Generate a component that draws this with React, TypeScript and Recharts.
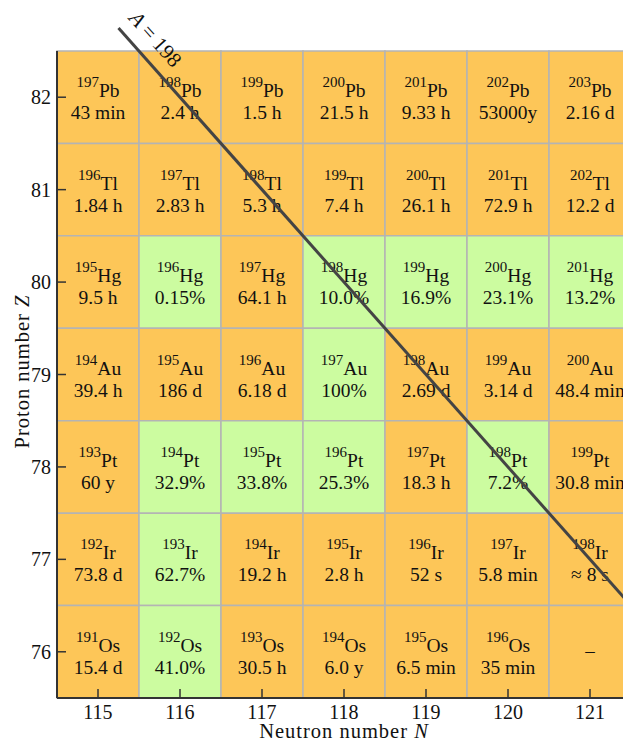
import React from 'react';
import { ComposedChart, XAxis, YAxis, ReferenceArea, ReferenceLine, ReferenceDot } from 'recharts';

// N across, Z down (top row = Z 82)
const neutronNumbers = [115, 116, 117, 118, 119, 120, 121];
const protonNumbers = [82, 81, 80, 79, 78, 77, 76];
const elements = ['Pb', 'Tl', 'Hg', 'Au', 'Pt', 'Ir', 'Os'];

// half-life, or natural abundance (%) for the stable ones
const cellValues = [
  ['43 min', '2.4 h', '1.5 h', '21.5 h', '9.33 h', '53000y', '2.16 d'],
  ['1.84 h', '2.83 h', '5.3 h', '7.4 h', '26.1 h', '72.9 h', '12.2 d'],
  ['9.5 h', '0.15%', '64.1 h', '10.0%', '16.9%', '23.1%', '13.2%'],
  ['39.4 h', '186 d', '6.18 d', '100%', '2.69 d', '3.14 d', '48.4 min'],
  ['60 y', '32.9%', '33.8%', '25.3%', '18.3 h', '7.2%', '30.8 min'],
  ['73.8 d', '62.7%', '19.2 h', '2.8 h', '52 s', '5.8 min', '\u2248 8 s'],
  ['15.4 d', '41.0%', '30.5 h', '6.0 y', '6.5 min', '35 min', '\u2013'],
];

const isobarA = 198;

const FONT = '"Liberation Serif", "Times New Roman", serif';
const UNSTABLE = '#fdc658';
const STABLE = '#ccfca0';
const GRID = '#b4b4b4';

const CellLabel = ({ viewBox, mass, symbol, value }: any) => {
  const cx = viewBox.x + viewBox.width / 2;
  const cy = viewBox.y + viewBox.height / 2;
  if (value === '\u2013') {
    return (
      <text x={cx} y={cy + 5} textAnchor="middle" fontFamily={FONT} fontSize={19} fill="#111">
        {value}
      </text>
    );
  }
  return (
    <g>
      <text x={cx} y={cy} textAnchor="middle" fontFamily={FONT} fill="#111">
        <tspan fontSize={15} dy={-10}>{mass}</tspan>
        <tspan fontSize={19.5} dy={10}>{symbol}</tspan>
      </text>
      <text x={cx} y={cy + 22} textAnchor="middle" fontFamily={FONT} fontSize={19.5} fill="#111">
        {value}
      </text>
    </g>
  );
};

const XLabel = ({ viewBox }: any) => (
  <text
    x={viewBox.x + viewBox.width / 2}
    y={738}
    textAnchor="middle"
    fontFamily={FONT}
    fontSize={20.5}
    letterSpacing={1}
    fill="#111"
  >
    Neutron number <tspan fontStyle="italic">N</tspan>
  </text>
);

const YLabel = ({ viewBox }: any) => {
  const cy = viewBox.y + viewBox.height / 2 - 3;
  return (
    <text
      x={29}
      y={cy}
      transform={`rotate(-90, 29, ${cy})`}
      textAnchor="middle"
      fontFamily={FONT}
      fontSize={20.5}
      letterSpacing={1}
      fill="#111"
    >
      Proton number <tspan fontStyle="italic">Z</tspan>
    </text>
  );
};

const LineLabel = ({ cx, cy }: any) => (
  <text
    x={cx}
    y={cy}
    transform={`rotate(48, ${cx}, ${cy})`}
    textAnchor="middle"
    dominantBaseline="central"
    fontFamily={FONT}
    fontSize={21}
    fill="#111"
  >
    <tspan fontStyle="italic">A</tspan> = {isobarA}
  </text>
);

export default function App() {
  const cells = protonNumbers.flatMap((z, row) =>
    neutronNumbers.map((n, col) => {
      const value = cellValues[row][col];
      const stable = value.endsWith('%');
      return (
        <ReferenceArea
          key={`${z}-${n}`}
          x1={n - 0.5}
          x2={n + 0.5}
          y1={z - 0.5}
          y2={z + 0.5}
          fill={stable ? STABLE : UNSTABLE}
          fillOpacity={1}
          stroke={GRID}
          strokeWidth={1.5}
          ifOverflow="visible"
          label={<CellLabel mass={n + z} symbol={elements[row]} value={value} />}
        />
      );
    })
  );

  const zTop = protonNumbers[0] + 0.75;
  const zBottom = protonNumbers[protonNumbers.length - 1] + 0.4;

  return (
    <div style={{ position: 'fixed', left: 0, top: 0, width: 623, height: 741, overflow: 'hidden', background: '#fff' }}>
      <ComposedChart width={640} height={741} margin={{ top: 51, right: 9, bottom: 0, left: 0 }}>
        <XAxis
          type="number"
          dataKey="n"
          domain={[114.5, 121.5]}
          ticks={neutronNumbers}
          allowDataOverflow
          height={43}
          axisLine={{ stroke: '#333', strokeWidth: 2 }}
          tickLine={{ stroke: '#333', strokeWidth: 1.5 }}
          tickSize={-9}
          tickMargin={16}
          tick={{ fill: '#111', fontFamily: FONT, fontSize: 20 }}
          label={<XLabel />}
        />
        <YAxis
          type="number"
          dataKey="z"
          domain={[75.5, 82.5]}
          ticks={[...protonNumbers].reverse()}
          allowDataOverflow
          width={57}
          axisLine={{ stroke: '#333', strokeWidth: 2 }}
          tickLine={{ stroke: '#333', strokeWidth: 1.5 }}
          tickSize={-9}
          tickMargin={15}
          tick={{ fill: '#111', fontFamily: FONT, fontSize: 20 }}
          label={<YLabel />}
        />
        {cells}
        <ReferenceLine
          segment={[
            { x: isobarA - zTop, y: zTop },
            { x: isobarA - zBottom, y: zBottom },
          ]}
          stroke="#444"
          strokeWidth={3}
          ifOverflow="visible"
        />
        <ReferenceDot x={115.7} y={82.63} r={0} ifOverflow="visible" shape={<LineLabel />} />
      </ComposedChart>
    </div>
  );
}
